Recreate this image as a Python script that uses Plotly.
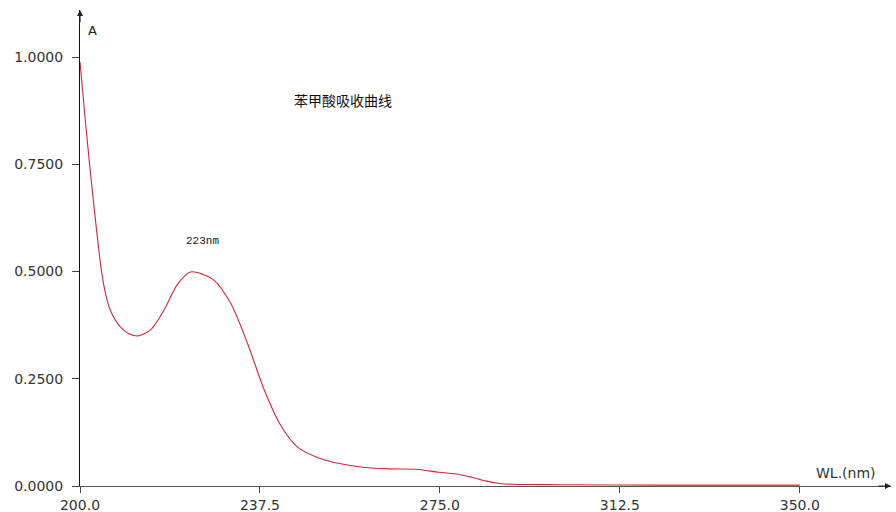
import plotly.graph_objects as go

# Benzoic acid UV absorption spectrum
wavelength = [200.0, 202.0, 204.5, 205.5, 206.5, 208.4, 210.2, 212.1, 214.7, 217.5,
              220.3, 223.0, 225.5, 227.9, 231.4, 234.9, 238.4, 241.9, 245.4, 249.6,
              253.8, 259.4, 264.3, 269.9, 274.8, 279.0, 281.8, 284.5, 287.4, 290.1,
              300.0, 320.0, 350.0]
absorbance = [0.989, 0.750, 0.500, 0.440, 0.405, 0.371, 0.355, 0.350, 0.364, 0.410,
              0.470, 0.499, 0.494, 0.480, 0.426, 0.333, 0.224, 0.140, 0.090, 0.066,
              0.053, 0.043, 0.040, 0.039, 0.032, 0.027, 0.020, 0.012, 0.006, 0.004,
              0.003, 0.002, 0.002]

x_ticks = [200.0, 237.5, 275.0, 312.5, 350.0]
y_ticks = [0.0, 0.25, 0.5, 0.75, 1.0]

peak_wl = 223.0
title_text = "苯甲酸吸收曲线"

X_MAX = 369.0
Y_MAX = 1.11

fig = go.Figure()
fig.add_trace(go.Scatter(
    x=wavelength, y=absorbance, mode="lines",
    line=dict(color="#cc2a3a", width=1.1, shape="spline", smoothing=0.8),
    hoverinfo="skip", showlegend=False,
))

axis_font = dict(family="DejaVu Sans", size=14, color="#333333")

fig.update_layout(
    width=896, height=512,
    margin=dict(l=80, r=5, t=10, b=26),
    paper_bgcolor="white", plot_bgcolor="white",
    showlegend=False,
    xaxis=dict(
        range=[200, X_MAX], tickvals=x_ticks,
        ticktext=[f"{v:.1f}" for v in x_ticks],
        ticks="outside", ticklen=6, tickcolor="#444444",
        showline=True, linecolor="#555555", linewidth=1,
        showgrid=False, zeroline=False, tickfont=axis_font,
        automargin=False,
    ),
    yaxis=dict(
        range=[0, Y_MAX], tickvals=y_ticks,
        ticktext=[f"{v:.4f}" for v in y_ticks],
        ticks="outside", ticklen=7, tickcolor="#444444",
        ticklabelstandoff=6,
        showline=True, linecolor="#111111", linewidth=1,
        showgrid=False, zeroline=False, tickfont=axis_font,
        automargin=False,
    ),
)

# axis arrowheads
fig.add_annotation(x=X_MAX, y=0, xref="x", yref="y", ax=-14, ay=0,
                   showarrow=True, arrowhead=2, arrowsize=1, arrowwidth=1.2,
                   arrowcolor="#222222", text="")
fig.add_annotation(x=200, y=Y_MAX, xref="x", yref="y", ax=0, ay=14,
                   showarrow=True, arrowhead=2, arrowsize=1, arrowwidth=1.2,
                   arrowcolor="#222222", text="")

# axis names
fig.add_annotation(x=202.5, y=1.063, xref="x", yref="y", text="A",
                   showarrow=False, font=dict(family="DejaVu Sans", size=13, color="#222222"))
fig.add_annotation(x=359.7, y=0.030, xref="x", yref="y", text="WL.(nm)",
                   showarrow=False, font=dict(family="DejaVu Sans", size=14, color="#333333"))

# chart title and peak label
fig.add_annotation(x=254.9, y=0.900, xref="x", yref="y", text=title_text,
                   showarrow=False, font=dict(family="Noto Sans CJK SC", size=14, color="#111111"))
fig.add_annotation(x=225.5, y=0.571, xref="x", yref="y",
                   text=f"{peak_wl:.0f}nm", showarrow=False,
                   font=dict(family="Liberation Mono", size=11, color="#222222"))

fig.write_html("out.html")
